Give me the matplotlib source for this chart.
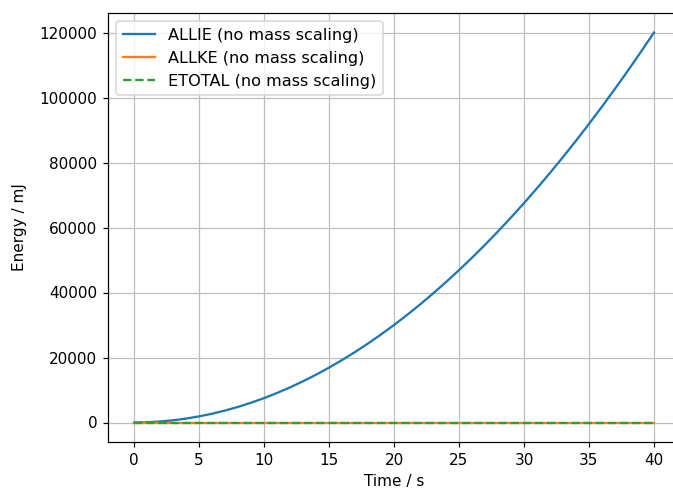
import numpy as np
import matplotlib
matplotlib.use("Agg")
import matplotlib.pyplot as plt

# time [s] and energies [mJ]
time = list(range(0, 41))
allie = [0, 80, 300, 680, 1200, 1880, 2700, 3680, 4800, 6080, 7500,
         9080, 10800, 12680, 14700, 16880, 19200, 21680, 24300, 27080, 30000,
         33080, 36300, 39680, 43200, 46880, 50700, 54680, 58800, 63080, 67500,
         72080, 76800, 81680, 86700, 91880, 97200, 102680, 108300, 114080, 120000]
allke = [0] * len(time)
etotal = [0] * len(time)

dpi = 110
fig = plt.figure(figsize=(673 / dpi, 488 / dpi), dpi=dpi)
ax = fig.add_axes([108 / 673, 46 / 488, 572 / 673, 429 / 488])

ax.plot(time, allie, label="ALLIE (no mass scaling)")
ax.plot(time, allke, label="ALLKE (no mass scaling)")
ax.plot(time, etotal, "--", label="ETOTAL (no mass scaling)")

ax.set_xlabel("Time / s")
ax.set_ylabel("Energy / mJ", labelpad=8)
ax.set_xticks(np.arange(0, 41, 5))
ax.set_yticks(np.arange(0, 120001, 20000))
ax.grid(True, color="#bdbdbd")
ax.legend(loc="upper left", fontsize=10.6)

fig.savefig("out.png", dpi=dpi)
